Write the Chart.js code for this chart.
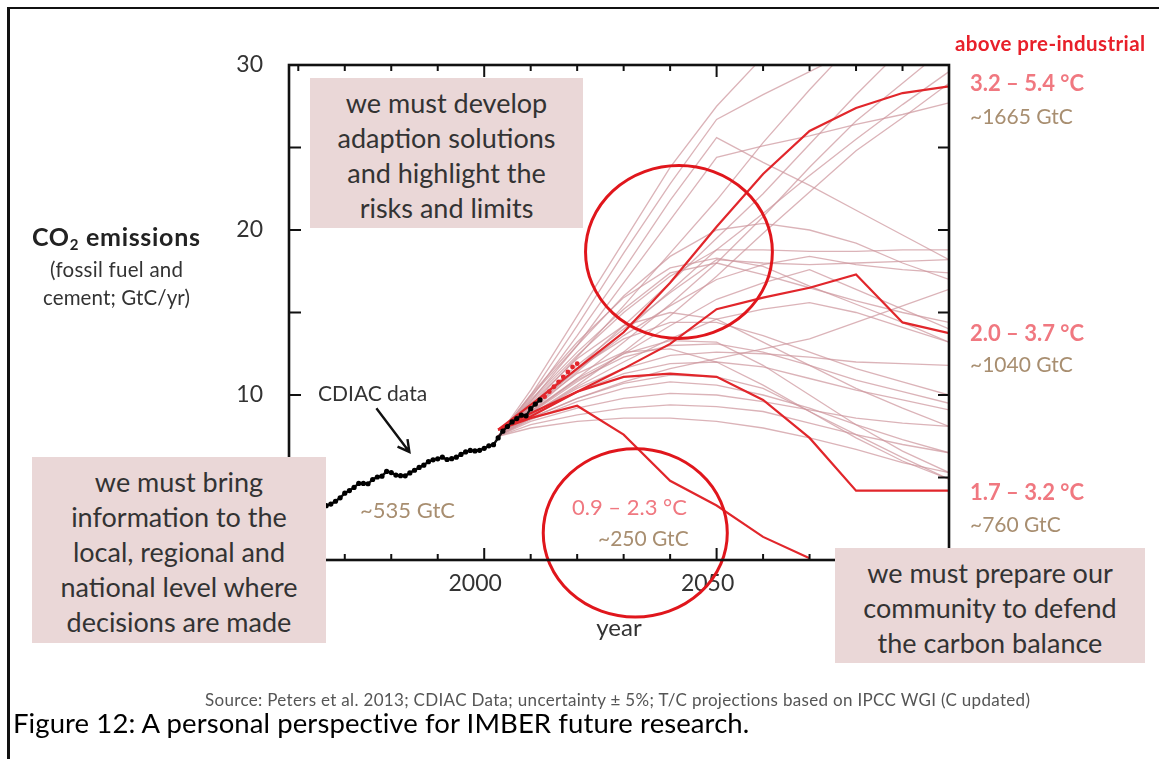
<!DOCTYPE html>
<html>
<head>
<meta charset="utf-8">
<script src="https://cdn.jsdelivr.net/npm/chart.js@4.4.1/dist/chart.umd.min.js"></script>
<style>
  html, body { margin: 0; padding: 0; background: #fff; }
  #wrap { position: relative; width: 1159px; height: 759px; overflow: hidden; font-family: Lato, "Open Sans", sans-serif; }
  canvas { position: absolute; left: 0; top: 0; }
  .edge-l { position: absolute; left: 7px; top: 7px; width: 3px; height: 760px; background: #111; }
  .edge-t { position: absolute; left: 7px; top: 7px; width: 1160px; height: 2px; background: #111; }
  .note { position: absolute; background: #ead7d7; color: #333; font-size: 27px; line-height: 35px;
          text-align: center; box-sizing: border-box; white-space: nowrap; }
  .lbl { position: absolute; white-space: nowrap; line-height: 1; transform: translateY(-50%); }
  .temp { color: #f07880; font-weight: 700; font-size: 22px; }
  .gtc { color: #a88e70; font-size: 21px; }
</style>
</head>
<body>
<div id="wrap">
  <canvas id="chart" width="1159" height="759"></canvas>
  <div class="edge-t"></div>
  <div class="edge-l"></div>

  <div class="lbl" data-w="168" style="left:32px;top:238px;font-size:25px;font-weight:700;color:#222;">CO<sub style="font-size:15px;vertical-align:-4px;">2</sub> emissions</div>
  <div class="lbl" data-w="133" style="left:50px;top:269px;font-size:20.5px;color:#333;">(fossil fuel and</div>
  <div class="lbl" data-w="147" style="left:43px;top:297px;font-size:20.5px;color:#333;">cement; GtC/yr)</div>

  <div class="lbl" style="left:318px;top:392px;font-size:21px;color:#333;">CDIAC data</div>
  <div class="lbl gtc" style="left:360px;top:510px;font-size:22px;">~535 GtC</div>

  <div class="lbl" data-w="190" style="left:955px;top:43px;font-size:20.5px;font-weight:700;color:#e8202a;">above pre-industrial</div>
  <div class="lbl temp" style="left:970px;top:83px;">3.2 – 5.4 °C</div>
  <div class="lbl gtc" style="left:970px;top:115px;">~1665 GtC</div>
  <div class="lbl temp" style="left:970px;top:333px;">2.0 – 3.7 °C</div>
  <div class="lbl gtc" style="left:970px;top:363px;">~1040 GtC</div>
  <div class="lbl temp" style="left:970px;top:492px;">1.7 – 3.2 °C</div>
  <div class="lbl gtc" style="left:970px;top:523px;">~760 GtC</div>
  <div class="lbl temp" style="left:572px;top:507px;font-weight:400;">0.9 – 2.3 °C</div>
  <div class="lbl gtc" style="left:598px;top:537px;">~250 GtC</div>

  <div class="note" style="left:310px;top:78px;width:273px;height:150px;padding-top:7px;">we must develop<br>adaption solutions<br>and highlight the<br>risks and limits</div>
  <div class="note" style="left:32px;top:457px;width:294px;height:186px;padding-top:7px;">we must bring<br>information to the<br>local, regional and<br>national level where<br>decisions are made</div>
  <div class="note" style="left:835px;top:548px;width:310px;height:115px;padding-top:7px;">we must prepare our<br>community to defend<br>the carbon balance</div>

  <div class="lbl" data-w="825" style="left:205px;top:699px;font-size:17px;color:#555;">Source: Peters et al. 2013; CDIAC Data; uncertainty ± 5%; T/C projections based on IPCC WGI (C updated)</div>
  <div class="lbl" data-w="737" style="left:13px;top:723px;font-size:27.5px;color:#000;">Figure 12: A personal perspective for IMBER future research.</div>
</div>

<script>
// Observed fossil fuel and cement emissions (GtC/yr)
const cdiacYears = [1958,1959,1960,1961,1962,1963,1964,1965,1966,1967,1968,1969,1970,1971,1972,1973,1974,1975,1976,1977,1978,1979,
  1980,1981,1982,1983,1984,1985,1986,1987,1988,1989,1990,1991,1992,1993,1994,1995,1996,1997,1998,1999,
  2000,2001,2002,2003,2004,2005,2006,2007,2008,2009,2010,2011,2012];
const cdiacValues = [2.33,2.45,2.58,2.59,2.70,2.85,3.00,3.13,3.29,3.39,3.56,3.77,4.05,4.21,4.40,4.64,4.64,4.62,4.88,5.03,5.08,5.37,
  5.30,5.15,5.11,5.10,5.28,5.44,5.61,5.75,5.96,6.07,6.13,6.23,6.09,6.14,6.23,6.40,6.55,6.64,6.61,6.65,
  6.77,6.92,6.99,7.40,7.81,8.09,8.37,8.57,8.78,8.74,9.17,9.45,9.70];

// Short-term outlook points
const outlookYears = [2013,2014,2015,2016,2017,2018,2019,2020];
const outlookValues = [9.9,10.2,10.5,10.8,11.1,11.4,11.7,11.9];

// Projection pathways, values at these years
const scenarioYears = [2003,2010,2020,2030,2040,2050,2060,2070,2080,2090,2100];

// Highlighted pathways
const pathHigh   = [7.9,9.4,11.6,13.8,16.8,20.2,23.4,26.0,27.4,28.3,28.7];
const pathMid    = [7.9,8.7,10.2,11.6,13.1,15.2,15.9,16.5,17.3,14.4,13.75];
const pathLow    = [7.9,8.9,10.2,11.1,11.3,11.1,9.7,7.4,4.2,4.2,4.2];
const pathLowest = [7.9,8.6,9.35,7.6,4.8,3.3,1.4,0.1];

// Remaining pathways of the ensemble
const paleScenarios = [
  [7.5,10.3,14.8,19.3,23.8,27.5,30.5,33.0,35.0,37.0,39.0],
  [7.5,10.0,14.2,18.6,22.8,26.7,28.2,29.6,31.0,32.0,33.0],
  [7.5,9.8,13.6,17.6,21.8,25.6,24.1,22.7,21.2,19.7,18.2],
  [7.5,9.6,13.0,16.8,20.6,24.4,25.1,25.7,26.4,27.0,27.7],
  [7.5,9.3,12.3,15.4,18.6,21.8,25.3,28.5,31.5,34.0,36.0],
  [7.5,9.1,11.6,14.2,16.8,19.5,22.2,25.2,28.2,31.0,33.5],
  [7.5,8.9,11.0,13.2,15.5,18.0,20.8,23.8,26.6,28.9,31.2],
  [7.5,8.8,10.6,12.6,14.8,17.2,19.8,22.3,24.8,26.8,28.9],
  [7.5,9.0,11.4,13.8,16.3,18.8,21.0,23.3,25.5,27.6,29.6],
  [7.5,9.6,12.4,15.0,17.2,18.8,18.8,18.7,18.7,18.8,18.8],
  [7.5,9.4,11.8,14.0,16.2,18.2,18.0,17.9,18.0,18.1,18.2],
  [7.5,9.2,11.5,13.6,15.4,17.0,17.9,18.4,17.9,17.6,17.4],
  [7.5,8.6,9.8,10.8,11.6,12.2,12.8,13.4,14.4,15.4,16.4],
  [7.5,9.7,12.6,15.2,17.4,18.0,17.3,16.5,15.7,15.0,14.4],
  [7.5,8.8,10.5,12.0,13.4,14.6,15.2,15.6,15.0,14.1,13.2],
  [7.5,8.9,10.8,12.5,14.2,15.8,16.8,17.6,16.4,15.2,14.0],
  [7.5,9.3,11.6,13.4,14.4,14.4,13.6,12.6,11.6,10.8,10.0],
  [7.5,9.0,10.9,12.3,13.0,13.1,12.6,11.8,10.9,10.2,9.5],
  [7.5,8.7,10.2,11.3,11.9,12.0,11.7,11.0,10.3,9.7,9.1],
  [7.5,9.5,12.2,14.2,15.0,14.6,13.2,11.8,10.4,9.2,8.1],
  [7.5,8.5,9.6,10.4,10.8,10.6,10.0,9.2,8.2,7.3,6.5],
  [7.5,9.0,11.0,12.5,13.3,13.2,11.8,10.0,8.2,6.6,5.3],
  [7.5,9.2,11.3,12.6,12.8,12.0,10.6,9.0,7.4,6.0,4.9],
  [7.5,8.4,9.2,9.8,10.1,10.0,9.6,9.1,8.6,8.3,8.1],
  [7.5,8.8,10.4,11.6,12.4,12.6,12.5,12.3,12.0,11.9,11.8],
  [7.5,8.2,8.8,9.2,9.4,9.3,9.0,8.3,7.6,7.0,6.5],
  [7.5,8.0,8.4,8.6,8.6,8.4,8.0,7.4,6.7,5.9,5.3],
  [7.5,8.6,9.8,10.7,11.2,11.1,10.4,9.0,7.6,6.2,4.9],
  [7.5,10.0,13.2,15.9,17.7,18.3,17.8,16.6,15.5,14.4,13.2],
  [7.5,9.9,13.0,16.0,18.4,20.0,20.4,20.0,19.2,18.0,17.0]
];

// Axis ticks
const yTickValues = [10, 20, 30];
const yFrameTicks = [5, 10, 15, 20, 25];
const xTickLabels = [2000, 2050];
const xFrameTicks = [1960,1970,1980,1990,2000,2010,2020,2030,2040,2050,2060,2070,2080,2090];

// Highlight rings, in data units (year, GtC/yr)
const rings = [
  { year: 2041.9, value: 18.67, halfYears: 20.1, halfValue: 5.24 },
  { year: 2032.5, value: 1.64,  halfYears: 19.8, halfValue: 5.1 }
];
// Arrow pointing at the observed record
const arrow = { from: [1976.8, 9.2], to: [1983.9, 6.55] };

const toPoints = (xs, ys) => ys.map((v, i) => ({ x: xs[i], y: v }));

const datasets = [];
datasets.push({ data: toPoints(cdiacYears, cdiacValues), showLine: true, borderColor: '#111', borderWidth: 2.4,
  pointRadius: 2.6, pointBackgroundColor: '#000', pointBorderWidth: 0, order: 0 });
datasets.push({ data: toPoints(outlookYears, outlookValues), showLine: false,
  pointRadius: 2.4, pointBackgroundColor: '#e3262c', pointBorderWidth: 0, order: 1 });
[pathHigh, pathMid, pathLow, pathLowest].forEach(p => datasets.push({
  data: toPoints(scenarioYears, p), showLine: true, borderColor: '#e1262b', borderWidth: 2.2,
  pointRadius: 0, order: 2 }));
paleScenarios.forEach(p => datasets.push({
  data: toPoints(scenarioYears, p), showLine: true, borderColor: 'rgba(205,150,156,0.72)', borderWidth: 1.3,
  pointRadius: 0, order: 3 }));

const framePlugin = {
  id: 'frame',
  afterDraw(chart) {
    const { ctx, chartArea: a, scales: { x, y } } = chart;
    ctx.save();
    // rings
    ctx.strokeStyle = '#e0161c';
    ctx.lineWidth = 3;
    rings.forEach(r => {
      const cx = x.getPixelForValue(r.year), cy = y.getPixelForValue(r.value);
      const rx = Math.abs(x.getPixelForValue(r.year + r.halfYears) - cx);
      const ry = Math.abs(y.getPixelForValue(r.value + r.halfValue) - cy);
      ctx.beginPath();
      ctx.ellipse(cx, cy, rx, ry, 0, 0, Math.PI * 2);
      ctx.stroke();
    });
    // box frame with inward ticks
    ctx.strokeStyle = '#111';
    ctx.lineWidth = 2.6;
    ctx.strokeRect(a.left, a.top, a.right - a.left, a.bottom - a.top);
    ctx.lineWidth = 2;
    ctx.beginPath();
    xFrameTicks.forEach(yr => {
      const px = x.getPixelForValue(yr);
      const len = xTickLabels.includes(yr) ? 12 : 6;
      ctx.moveTo(px, a.bottom); ctx.lineTo(px, a.bottom - len);
      ctx.moveTo(px, a.top); ctx.lineTo(px, a.top + len);
    });
    yFrameTicks.forEach(v => {
      const py = y.getPixelForValue(v);
      ctx.moveTo(a.left, py); ctx.lineTo(a.left + 12, py);
      ctx.moveTo(a.right, py); ctx.lineTo(a.right - 11, py);
    });
    ctx.stroke();
    // arrow
    const x0 = x.getPixelForValue(arrow.from[0]), y0 = y.getPixelForValue(arrow.from[1]);
    const x1 = x.getPixelForValue(arrow.to[0]), y1 = y.getPixelForValue(arrow.to[1]);
    const ang = Math.atan2(y1 - y0, x1 - x0);
    ctx.lineWidth = 2.4;
    ctx.beginPath();
    ctx.moveTo(x0, y0); ctx.lineTo(x1, y1);
    ctx.moveTo(x1 - 13 * Math.cos(ang - 0.5), y1 - 13 * Math.sin(ang - 0.5));
    ctx.lineTo(x1, y1);
    ctx.lineTo(x1 - 13 * Math.cos(ang + 0.5), y1 - 13 * Math.sin(ang + 0.5));
    ctx.stroke();
    ctx.restore();
  }
};

new Chart(document.getElementById('chart'), {
  type: 'scatter',
  data: { datasets },
  options: {
    responsive: false,
    animation: false,
    devicePixelRatio: 1,
    layout: { padding: { left: 0, top: 65, right: 210, bottom: 0 } },
    plugins: { legend: { display: false }, tooltip: { enabled: false } },
    scales: {
      x: {
        type: 'linear', min: 1958, max: 2100,
        grid: { display: false, drawTicks: false },
        border: { display: false },
        afterBuildTicks: s => { s.ticks = xTickLabels.map(v => ({ value: v })); },
        afterFit: s => { s.height = 199; },
        ticks: { font: { family: 'Lato', size: 23 }, color: '#333', padding: 10, maxRotation: 0,
                 autoSkip: false, labelOffset: -9, callback: v => String(v) },
        title: { display: true, text: 'year', font: { family: 'Lato', size: 24 }, color: '#333',
                 padding: { top: 0, bottom: 116 } }
      },
      y: {
        min: 0, max: 30,
        grid: { display: false, drawTicks: false },
        border: { display: false },
        afterBuildTicks: s => { s.ticks = yTickValues.map(v => ({ value: v })); },
        afterFit: s => { s.width = 289; },
        ticks: { font: { family: 'Lato', size: 23 }, color: '#333', padding: 26, callback: v => String(v) }
      }
    }
  },
  plugins: [framePlugin]
});

// Spread a few text lines to their set widths
function spreadText() {
  document.querySelectorAll('[data-w]').forEach(el => {
    el.style.letterSpacing = '0px';
    const natural = el.getBoundingClientRect().width;
    const n = el.textContent.length;
    const target = parseFloat(el.dataset.w);
    if (n > 1) el.style.letterSpacing = ((target - natural) / (n - 1)).toFixed(2) + 'px';
  });
}
if (document.fonts && document.fonts.ready) document.fonts.ready.then(spreadText); else spreadText();
spreadText();
</script>
</body>
</html>
